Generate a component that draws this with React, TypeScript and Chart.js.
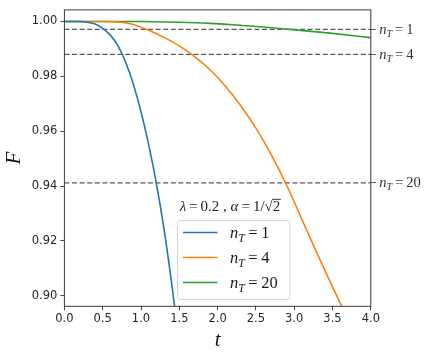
import React, { useEffect, useRef } from 'react';
import { Chart, registerables } from 'chart.js';

Chart.register(...registerables);

const W = 432;
const H = 356;

// axis ticks
const xTicks = [0, 0.5, 1, 1.5, 2, 2.5, 3, 3.5, 4];
const yTicks = [0.9, 0.92, 0.94, 0.96, 0.98, 1.0];

// n_T = 1
const blueT = [0, 0.1, 0.2, 0.3, 0.4, 0.5, 0.6, 0.7, 0.8, 0.9, 1.0, 1.1, 1.2, 1.3, 1.4, 1.5];
const blueF = [1.0, 1.0, 0.99995, 0.9997, 0.9991, 0.9975, 0.995, 0.9911, 0.9851, 0.9771, 0.9671, 0.9551, 0.9411, 0.9244, 0.9046, 0.8828];

// n_T = 4
const orangeT = [0, 0.5, 0.7, 0.9, 1.1, 1.3, 1.5, 1.7, 1.9, 2.1, 2.3, 2.5, 2.7, 2.9, 3.1, 3.3, 3.5, 3.7];
const orangeF = [1.0, 1.0, 0.9998, 0.9989, 0.9968, 0.9942, 0.9911, 0.9872, 0.9824, 0.9765, 0.9694, 0.9611, 0.9515, 0.9404, 0.9279, 0.9154, 0.9033, 0.8916];

// n_T = 20
const greenT = [0, 0.5, 1.0, 1.5, 1.9, 2.2, 2.6, 2.945, 3.5, 4.0];
const greenF = [1.0, 1.0, 0.99995, 0.9997, 0.9993, 0.9988, 0.99795, 0.9971, 0.99565, 0.9941];

// dashed reference levels and their right-side labels
const dashLevels = [0.9971, 0.988, 0.9412];
const dashLabels = ['1', '4', '20'];

const seriesNames = ['1', '4', '20'];
const seriesColors = ['#1f77b4', '#ff7f0e', '#2ca02c'];

const MATH = '"Liberation Serif", "DejaVu Serif", serif';
const SANS = '"DejaVu Sans", sans-serif';

type Seg = { s: string; it?: boolean; sub?: boolean; op?: boolean; bar?: boolean };

function segFont(seg: Seg, size: number) {
  const sz = seg.sub ? size * 0.7 : size;
  return `${seg.it ? 'italic ' : ''}${sz}px ${MATH}`;
}

function drawMath(ctx: CanvasRenderingContext2D, segs: Seg[], x: number, y: number, size: number, align: 'left' | 'center', color = '#1a1a1a', opPad = 0.22) {
  ctx.save();
  ctx.textBaseline = 'alphabetic';
  ctx.textAlign = 'left';
  const widths = segs.map((seg) => {
    ctx.font = segFont(seg, size);
    const w = ctx.measureText(seg.s).width;
    return w + (seg.op ? size * opPad * 2 : 0);
  });
  const total = widths.reduce((a, b) => a + b, 0);
  let cx = align === 'center' ? x - total / 2 : x;
  ctx.fillStyle = color;
  ctx.strokeStyle = color;
  segs.forEach((seg, i) => {
    ctx.font = segFont(seg, size);
    const dx = seg.op ? size * opPad : 0;
    const dy = seg.sub ? size * 0.22 : 0;
    ctx.fillText(seg.s, cx + dx, y + dy);
    if (seg.bar) {
      ctx.lineWidth = Math.max(0.8, size * 0.06);
      ctx.beginPath();
      ctx.moveTo(cx - 0.5, y - size * 0.78);
      ctx.lineTo(cx + widths[i] + 0.5, y - size * 0.78);
      ctx.stroke();
    }
    cx += widths[i];
  });
  ctx.restore();
}

const nT = (v: string): Seg[] => [
  { s: 'n', it: true },
  { s: 'T', it: true, sub: true },
  { s: '=', op: true },
  { s: v },
];

const overlay = {
  id: 'overlay',
  afterDatasetsDraw(chart: any) {
    const { ctx, chartArea: a } = chart;
    ctx.save();
    ctx.strokeStyle = '#3a3a3a';
    ctx.lineWidth = 1;
    ctx.strokeRect(a.left, a.top, a.right - a.left, a.bottom - a.top);
    ctx.restore();
  },
  afterDraw(chart: any) {
    const { ctx, chartArea: a, scales } = chart;
    const y2 = scales.y2;
    dashLevels.forEach((v, i) => {
      const py = y2.getPixelForValue(v);
      drawMath(ctx, nT(dashLabels[i]), a.right + 8.5, py + 4.5, 14.5, 'left', '#333', 0.2);
    });

    // parameter annotation
    drawMath(
      ctx,
      [
        { s: 'λ', it: true },
        { s: '=', op: true },
        { s: '0.2' },
        { s: ' , ' },
        { s: 'α', it: true },
        { s: '=', op: true },
        { s: '1/' },
        { s: '√' },
        { s: '2', bar: true },
      ],
      230,
      211,
      15,
      'center',
      '#222',
      0.2
    );

    // legend box
    const lx = 177, ly = 220, lw = 112.5, lh = 79;
    ctx.save();
    ctx.fillStyle = 'rgba(255,255,255,0.8)';
    ctx.strokeStyle = '#d6d6d6';
    ctx.lineWidth = 1;
    ctx.beginPath();
    (ctx as any).roundRect(lx + 0.5, ly + 0.5, lw, lh, 3);
    ctx.fill();
    ctx.stroke();
    ctx.restore();
    seriesNames.forEach((name, i) => {
      const yy = 232.5 + i * 25;
      ctx.save();
      ctx.strokeStyle = seriesColors[i];
      ctx.lineWidth = 1.6;
      ctx.beginPath();
      ctx.moveTo(183, yy);
      ctx.lineTo(217.5, yy);
      ctx.stroke();
      ctx.restore();
      drawMath(ctx, nT(name), 230, yy + 5.5, 16.5, 'left', '#1a1a1a', 0.22);
    });
  },
};

const toPts = (xs: number[], ys: number[]) => xs.map((x, i) => ({ x, y: ys[i] }));

export default function App() {
  const ref = useRef<HTMLCanvasElement>(null);
  useEffect(() => {
    if (!ref.current) return;
    const curveDs = [
      { data: toPts(blueT, blueF), color: seriesColors[0] },
      { data: toPts(orangeT, orangeF), color: seriesColors[1] },
      { data: toPts(greenT, greenF), color: seriesColors[2] },
    ].map((d, i) => ({
      label: 'n_T=' + seriesNames[i],
      data: d.data,
      borderColor: d.color,
      backgroundColor: d.color,
      borderWidth: 1.6,
      pointRadius: 0,
      cubicInterpolationMode: 'monotone' as const,
      fill: false,
    }));
    const dashDs = dashLevels.map((v) => ({
      label: 'ref',
      data: [
        { x: 0, y: v },
        { x: 4, y: v },
      ],
      borderColor: 'rgba(60,60,60,0.85)',
      borderWidth: 1.3,
      borderDash: [5, 2.6],
      pointRadius: 0,
      fill: false,
    }));
    const chart = new Chart(ref.current, {
      type: 'line',
      data: { datasets: [...curveDs, ...dashDs] as any },
      plugins: [overlay],
      options: {
        animation: false,
        responsive: false,
        devicePixelRatio: 1,
        parsing: false as any,
        layout: { padding: { top: 6, left: 0, right: 0, bottom: 0 } },
        plugins: { legend: { display: false }, tooltip: { enabled: false } },
        scales: {
          x: {
            type: 'linear',
            position: 'bottom',
            min: 0,
            max: 4,
            afterBuildTicks: (s: any) => {
              s.ticks = xTicks.map((v) => ({ value: v }));
            },
            afterFit: (s: any) => {
              s.height = 49.7;
            },
            ticks: {
              callback: (v: any) => Number(v).toFixed(1),
              font: { family: SANS, size: 11.5 },
              color: '#262626',
              padding: 2,
              maxRotation: 0,
              autoSkip: false,
            },
            grid: { display: true, drawOnChartArea: false, drawTicks: true, tickLength: 4, color: '#333', lineWidth: 0.9 },
            border: { display: false },
            title: {
              display: true,
              text: 't',
              font: { family: MATH, style: 'italic', size: 21 },
              color: '#111',
              padding: { top: 0, bottom: 3.4 },
            },
          },
          y: {
            type: 'linear',
            position: 'left',
            min: 0.8962,
            max: 1.0042,
            afterBuildTicks: (s: any) => {
              s.ticks = yTicks.map((v) => ({ value: v }));
            },
            afterFit: (s: any) => {
              s.width = 64.4;
            },
            ticks: {
              callback: (v: any) => Number(v).toFixed(2),
              font: { family: SANS, size: 11.5 },
              color: '#262626',
              padding: 3,
              autoSkip: false,
            },
            grid: { display: true, drawOnChartArea: false, drawTicks: true, tickLength: 4, color: '#333', lineWidth: 0.9 },
            border: { display: false },
            title: {
              display: true,
              text: 'F',
              font: { family: MATH, style: 'italic', size: 21 },
              color: '#111',
              padding: { top: 1.5, bottom: 0 },
            },
          },
          y2: {
            type: 'linear',
            position: 'right',
            min: 0.8962,
            max: 1.0042,
            afterBuildTicks: (s: any) => {
              s.ticks = dashLevels.map((v) => ({ value: v }));
            },
            afterFit: (s: any) => {
              s.width = 61.2;
            },
            ticks: { callback: () => '', autoSkip: false, padding: 0 },
            grid: { display: true, drawOnChartArea: false, drawTicks: true, tickLength: 5, color: '#444', lineWidth: 0.9 },
            border: { display: false },
          },
        },
      } as any,
    });
    return () => chart.destroy();
  }, []);
  return (
    <div style={{ position: 'fixed', left: 0, top: 0, width: W, height: H, background: '#fff' }}>
      <canvas ref={ref} width={W} height={H} style={{ display: 'block', width: W, height: H }} />
    </div>
  );
}
